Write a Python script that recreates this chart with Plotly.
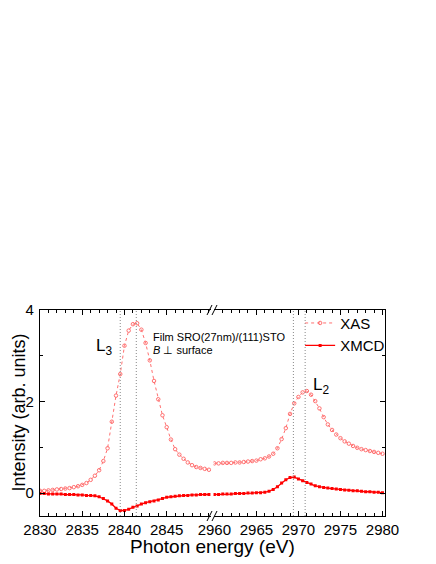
import plotly.graph_objects as go

# L3 edge region (left panel)
energy_l3 = [2830.0, 2830.5, 2831.0, 2831.5, 2832.0, 2832.5, 2833.0, 2833.5, 2834.0, 2834.5,
             2835.0, 2835.5, 2836.0, 2836.5, 2837.0, 2837.5, 2838.0, 2838.5, 2839.0, 2839.5,
             2840.0, 2840.5, 2841.0, 2841.5, 2842.0, 2842.5, 2843.0, 2843.5, 2844.0, 2844.5,
             2845.0, 2845.5, 2846.0, 2846.5, 2847.0, 2847.5, 2848.0, 2848.5, 2849.0, 2849.5,
             2850.0]
xas_l3 = [0.05, 0.05, 0.06, 0.07, 0.08, 0.09, 0.10, 0.11, 0.13, 0.15,
          0.18, 0.22, 0.29, 0.38, 0.50, 0.70, 0.98, 1.56, 2.13, 2.60,
          3.22, 3.55, 3.69, 3.71, 3.57, 3.28, 2.90, 2.45, 2.05, 1.70,
          1.44, 1.17, 0.96, 0.84, 0.75, 0.67, 0.61, 0.57, 0.55, 0.53,
          0.51]
xmcd_l3 = [-0.01, -0.01, -0.02, -0.02, -0.02, -0.02, -0.03, -0.03, -0.03, -0.04,
           -0.04, -0.05, -0.05, -0.06, -0.08, -0.12, -0.17, -0.24, -0.33, -0.38,
           -0.38, -0.35, -0.31, -0.28, -0.24, -0.21, -0.19, -0.17, -0.15, -0.12,
           -0.09, -0.08, -0.07, -0.06, -0.05, -0.05, -0.04, -0.04, -0.03, -0.03,
           -0.03]

# L2 edge region (right panel)
energy_l2 = [2960.0, 2960.5, 2961.0, 2961.5, 2962.0, 2962.5, 2963.0, 2963.5, 2964.0, 2964.5,
             2965.0, 2965.5, 2966.0, 2966.5, 2967.0, 2967.5, 2968.0, 2968.5, 2969.0, 2969.5,
             2970.0, 2970.5, 2971.0, 2971.5, 2972.0, 2972.5, 2973.0, 2973.5, 2974.0, 2974.5,
             2975.0, 2975.5, 2976.0, 2976.5, 2977.0, 2977.5, 2978.0, 2978.5, 2979.0, 2979.5,
             2980.0]
xas_l2 = [0.65, 0.65, 0.66, 0.66, 0.66, 0.67, 0.67, 0.68, 0.69, 0.70,
          0.71, 0.74, 0.76, 0.80, 0.86, 0.98, 1.18, 1.42, 1.73, 1.96,
          2.10, 2.20, 2.23, 2.15, 2.01, 1.85, 1.66, 1.50, 1.38, 1.28,
          1.20, 1.13, 1.08, 1.03, 0.99, 0.96, 0.94, 0.92, 0.90, 0.88,
          0.86]
xmcd_l2 = [-0.03, -0.03, -0.02, -0.02, -0.02, -0.01, -0.01, -0.01, 0.00, 0.00,
           0.01, 0.01, 0.02, 0.04, 0.08, 0.14, 0.22, 0.29, 0.34, 0.35,
           0.31, 0.27, 0.23, 0.20, 0.16, 0.14, 0.12, 0.11, 0.10, 0.09,
           0.08, 0.07, 0.06, 0.05, 0.05, 0.04, 0.03, 0.03, 0.02, 0.02,
           0.01]

# dotted guide lines at peak positions
guides_l3 = [2839.5, 2841.4]
guides_l2 = [2969.4, 2970.8]

XAS_COLOR = "#ff7070"
XMCD_COLOR = "#ff0000"
FONT = "Liberation Sans, Arial, sans-serif"

fig = go.Figure()

xas_style = dict(mode="lines+markers",
                 line=dict(color=XAS_COLOR, width=1, dash="dot"),
                 marker=dict(symbol="circle-open", size=3.5, color=XAS_COLOR, line=dict(width=1)))
xmcd_style = dict(mode="lines+markers",
                  line=dict(color=XMCD_COLOR, width=1.3),
                  marker=dict(symbol="square", size=3, color=XMCD_COLOR))

fig.add_trace(go.Scatter(x=energy_l3, y=xas_l3, name="XAS", xaxis="x", yaxis="y", **xas_style))
fig.add_trace(go.Scatter(x=energy_l3, y=xmcd_l3, name="XMCD", xaxis="x", yaxis="y", **xmcd_style))
fig.add_trace(go.Scatter(x=energy_l2, y=xas_l2, name="XAS", xaxis="x2", yaxis="y2",
                         showlegend=False, **xas_style))
fig.add_trace(go.Scatter(x=energy_l2, y=xmcd_l2, name="XMCD", xaxis="x2", yaxis="y2",
                         showlegend=False, **xmcd_style))

for g in guides_l3:
    fig.add_shape(type="line", xref="x", yref="paper", x0=g, x1=g, y0=0, y1=1,
                  line=dict(color="#888888", width=1, dash="1px,2px"))
for g in guides_l2:
    fig.add_shape(type="line", xref="x2", yref="paper", x0=g, x1=g, y0=0, y1=1,
                  line=dict(color="#888888", width=1, dash="1px,2px"))

# axis break marks "//"
pw, ph = 345.0, 205.5
bx = (212 - 40) / pw
for yb in (0, 1):
    for off in (-2.5, 2.5):
        fig.add_shape(type="line", xref="paper", yref="paper",
                      x0=bx + (off - 2.5) / pw, x1=bx + (off + 2.5) / pw,
                      y0=yb - 5 / ph, y1=yb + 5 / ph,
                      line=dict(color="black", width=1))

axis_common = dict(showline=True, linecolor="black", linewidth=1.2, ticks="inside",
                   ticklen=5, tickcolor="black", mirror="ticks", showgrid=False, zeroline=False,
                   tickfont=dict(size=15, color="black", family=FONT))
minor_ticks = dict(dtick=1, ticks="inside", ticklen=3, tickcolor="black")

# the page body adds an 8px offset, so the figure is 8px smaller than the window
fig.update_layout(
    width=428, height=556,
    margin=dict(l=32, r=51, t=302, b=48),
    paper_bgcolor="white", plot_bgcolor="white",
    font=dict(family=FONT, color="black"),
    xaxis=dict(domain=[0, 0.497], range=[2830, 2850.3], tickvals=[2830, 2835, 2840, 2845],
               minor=minor_ticks, anchor="y", **axis_common),
    xaxis2=dict(domain=[0.503, 1], range=[2959.9, 2980.3], dtick=5, tick0=2960,
                minor=minor_ticks, anchor="y2", **axis_common),
    yaxis=dict(range=[-0.5, 4], tickvals=[0, 2, 4], anchor="x", ticklabelstandoff=2,
               minor=minor_ticks, **{**axis_common, "mirror": False}),
    yaxis2=dict(range=[-0.5, 4], tickvals=[0, 2, 4], anchor="x2", side="right",
                matches="y", showticklabels=False,
                minor=minor_ticks, **{**axis_common, "mirror": False}),
    legend=dict(x=0.754, y=1.016, xanchor="left", yanchor="top", bgcolor="rgba(0,0,0,0)",
                font=dict(size=15, family=FONT, color="black")),
    showlegend=True,
)

fig.add_annotation(text="Photon energy (eV)", xref="paper", yref="paper", x=0.5, y=-0.146,
                   showarrow=False, font=dict(size=19, family=FONT, color="black"),
                   xanchor="center", yanchor="middle")
fig.add_annotation(text="Intensity (arb. units)", xref="paper", yref="paper", x=-0.062, y=0.5,
                   textangle=-90, showarrow=False, font=dict(size=18, family=FONT, color="black"),
                   xanchor="center", yanchor="middle")
fig.add_annotation(text="L<sub>3</sub>", xref="x", yref="y", x=2837.6, y=3.2, showarrow=False,
                   font=dict(size=17, family=FONT, color="black"))
fig.add_annotation(text="L<sub>2</sub>", xref="x2", yref="y2", x=2972.7, y=2.33, showarrow=False,
                   font=dict(size=17, family=FONT, color="black"))
fig.add_annotation(text="Film SRO(27nm)/(111)STO", xref="x", yref="y", x=2843.2, y=3.42,
                   xanchor="left", showarrow=False, font=dict(size=11, family=FONT, color="black"))
fig.add_annotation(text="<i>B</i> ⊥ surface", xref="x", yref="y", x=2843.2, y=3.12,
                   xanchor="left", showarrow=False, font=dict(size=11, family=FONT, color="black"))

fig.write_html("out.html")
